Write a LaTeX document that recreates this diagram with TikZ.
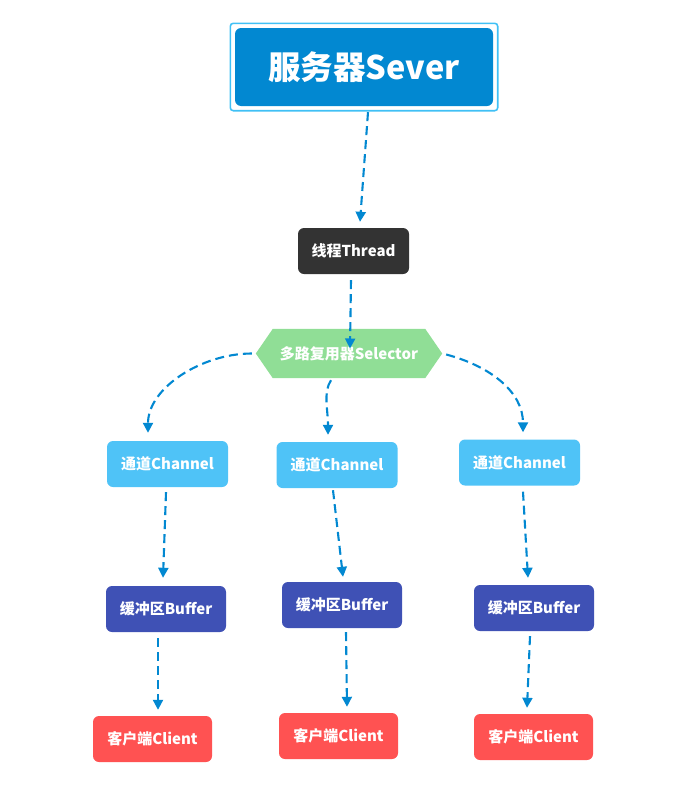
\documentclass[tikz,border=0pt]{standalone}
\usepackage{fontspec}
\setmainfont{Noto Sans CJK SC}
\usetikzlibrary{arrows.meta,backgrounds}
\definecolor{srvblue}{RGB}{2,136,209}
\definecolor{srvline}{RGB}{64,192,245}
\definecolor{thrgray}{RGB}{51,51,51}
\definecolor{selgreen}{RGB}{144,222,150}
\definecolor{chblue}{RGB}{79,195,247}
\definecolor{bufblue}{RGB}{63,81,181}
\definecolor{clred}{RGB}{255,82,82}
\definecolor{conn}{RGB}{2,136,209}
\tikzset{
  box/.style={rounded corners=6pt, inner sep=0pt, text=white, font=\bfseries\fontsize{15}{17}\selectfont, minimum height=46pt},
  serverbox/.style={box, fill=srvblue, minimum width=258pt, minimum height=78pt, font=\bfseries\fontsize{32.5}{36}\selectfont},
  threadbox/.style={box, fill=thrgray, minimum width=111pt},
  chanbox/.style={box, fill=chblue, minimum width=121pt},
  bufbox/.style={box, fill=bufblue, minimum width=120pt},
  clientbox/.style={box, fill=clred, minimum width=119pt},
  seltext/.style={inner sep=0pt, text=white, font=\bfseries\fontsize{15}{17}\selectfont, minimum width=186pt, minimum height=49pt},
  link/.style={draw=conn, line width=2.1pt, dash pattern=on 9pt off 5pt, -{Triangle[length=10pt,width=10pt]}},
}
\begin{document}
\begin{tikzpicture}[x=1pt,y=-1pt]
\useasboundingbox (0,0) rectangle (682,798);
\node[serverbox] (srv) at (364,67) {服务器Sever};
\draw[srvline, line width=1.6pt, rounded corners=3pt] ([shift={(-4.5,-4.5)}]srv.north west) rectangle ([shift={(4.5,4.5)}]srv.south east);
\node[threadbox] (thr) at (353.5,251) {线程Thread};
\node[seltext] (sel) at (349,353.5) {多路复用器Selector};
\begin{scope}[on background layer]
\fill[selgreen] (sel.west) -- ([shift={(17,0)}]sel.north west) -- ([shift={(-17,0)}]sel.north east) -- (sel.east) -- ([shift={(-17,0)}]sel.south east) -- ([shift={(17,0)}]sel.south west) -- cycle;
\end{scope}
\node[chanbox] (ch1) at (167.5,464) {通道Channel};
\node[chanbox] (ch2) at (337,465) {通道Channel};
\node[chanbox] (ch3) at (519.5,462.5) {通道Channel};
\node[bufbox] (bf1) at (166,609) {缓冲区Buffer};
\node[bufbox] (bf2) at (342,605) {缓冲区Buffer};
\node[bufbox] (bf3) at (534,608) {缓冲区Buffer};
\node[clientbox] (cl1) at (152.5,739) {客户端Client};
\node[clientbox] (cl2) at (338.5,736) {客户端Client};
\node[clientbox] (cl3) at (533.5,737) {客户端Client};
% connectors
\draw[link] ([shift={(4,6)}]srv.south) -- ([shift={(6.5,-6)}]thr.north);
\draw[link] ([shift={(-2.5,6)}]thr.south) -- ([shift={(1,-5)}]sel.center);
\draw[link] ([shift={(-4,0)}]sel.west) .. controls +(-50,0) and +(0,-45) .. ([shift={(-19.5,-8)}]ch1.north);
\draw[link] ([shift={(-18,2)}]sel.south) .. controls +(-8,12) and +(0,-25) .. ([shift={(-9,-7)}]ch2.north);
\draw[link] ([shift={(4,1)}]sel.east) .. controls +(45,12) and +(0,-40) .. ([shift={(3.5,-7)}]ch3.north);
\draw[link] ([shift={(-1.5,5)}]ch1.south) -- ([shift={(-3,-8)}]bf1.north);
\draw[link] ([shift={(-4,2)}]ch2.south) -- ([shift={(1,-5)}]bf2.north);
\draw[link] ([shift={(3.5,6)}]ch3.south) -- ([shift={(-6,-7)}]bf3.north);
\draw[link] ([shift={(-8,6)}]bf1.south) -- ([shift={(5.5,-6)}]cl1.north);
\draw[link] ([shift={(4,4)}]bf2.south) -- ([shift={(8.5,-6)}]cl2.north);
\draw[link] ([shift={(-4,5)}]bf3.south) -- ([shift={(-6.5,-6)}]cl3.north);
\end{tikzpicture}
\end{document}
